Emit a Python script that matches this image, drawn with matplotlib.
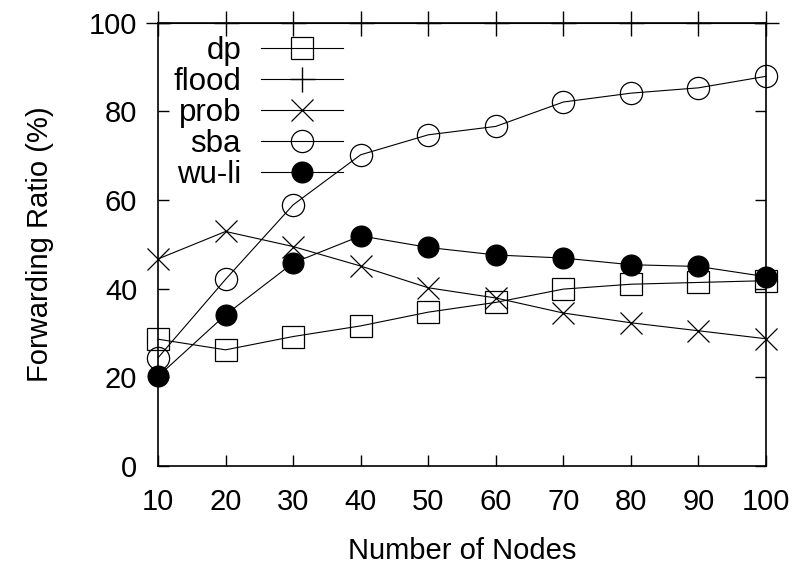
import matplotlib
matplotlib.use("Agg")
import matplotlib.pyplot as plt

plt.rcParams['font.family'] = ['Liberation Sans', 'DejaVu Sans']

# number of nodes and forwarding ratio (%) for each scheme
nodes = [10, 20, 30, 40, 50, 60, 70, 80, 90, 100]
dp = [28.6, 26.2, 29.2, 31.6, 34.7, 36.9, 39.9, 41.0, 41.4, 41.8]
flood = [100, 100, 100, 100, 100, 100, 100, 100, 100, 100]
prob = [46.7, 52.9, 49.5, 45.1, 40.2, 37.9, 34.5, 32.3, 30.5, 28.7]
sba = [24.4, 42.1, 58.9, 70.2, 74.7, 76.6, 82.1, 84.1, 85.3, 87.9]
wuli = [20.2, 34.1, 45.8, 51.9, 49.3, 47.6, 46.9, 45.4, 45.0, 42.7]

fig = plt.figure(figsize=(8, 5.64), dpi=100)
ax = fig.add_axes([0.1975, 0.1738, 0.76, 0.786])

common = dict(color="black", linewidth=0.8, markersize=16, markeredgewidth=0.9, clip_on=False)
ax.plot(nodes, dp, marker="s", markerfacecolor="none", label="dp", **common)
# flood sits at 100 %, on the top border
ax.plot(nodes, flood, marker="+", label="flood", zorder=3, color="black", linewidth=0.8,
        markersize=18, markeredgewidth=1.0, clip_on=False)
ax.plot(nodes, prob, marker="x", label="prob", **common)
ax.plot(nodes, sba, marker="o", markerfacecolor="none", label="sba", **common)
ax.plot(nodes, wuli, marker="o", markerfacecolor="black", markersize=15, label="wu-li",
        color="black", linewidth=0.8, markeredgewidth=0.9, clip_on=False)

ax.set_xlim(10, 100)
ax.set_ylim(0, 100)
ax.set_xticks(nodes)
ax.set_yticks([0, 20, 40, 60, 80, 100])
ax.tick_params(direction="in", length=8, width=1, labelsize=21, right=True, top=False)
ax.tick_params(axis="y", pad=15)
ax.tick_params(axis="x", pad=16)
for s in ax.spines.values():
    s.set_linewidth(1.2)

ax.set_xlabel("Number of Nodes", fontsize=21, labelpad=15)
ax.set_ylabel("Forwarding Ratio (%)", fontsize=21, labelpad=25)

ax.legend(loc="upper left", bbox_to_anchor=(-0.011, 1.019), frameon=False, markerfirst=False,
          fontsize=22.5, handlelength=2.6, handletextpad=0.65, labelspacing=0.03,
          borderaxespad=0.3)

fig.savefig("out.png", dpi=100)
